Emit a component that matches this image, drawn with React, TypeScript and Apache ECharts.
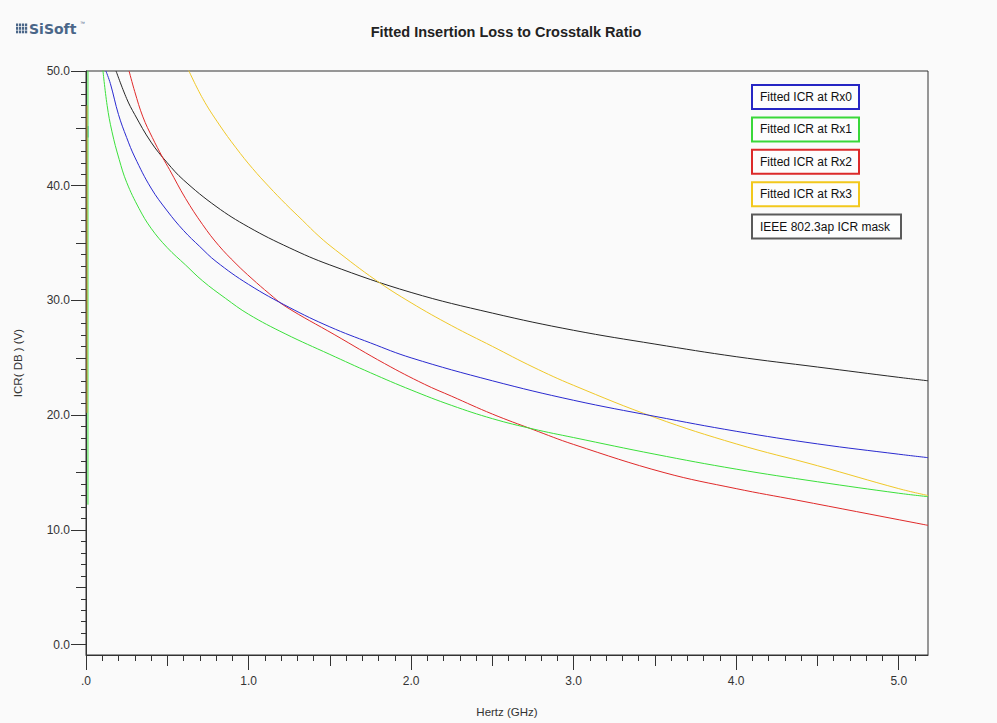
import React, { useEffect, useRef } from "react";
import * as echarts from "echarts";

// ---- data (GHz, dB) ----
const rx0Points: number[][] = [
  [0.1225, 50.0], [0.15, 48.9], [0.2, 46.2], [0.25, 44.2], [0.3, 42.5], [0.4, 39.8], [0.5, 37.8],
  [0.6, 36.1], [0.7, 34.7], [0.8, 33.4], [1.0, 31.4], [1.25, 29.4], [1.5, 27.7], [1.75, 26.3],
  [2.0, 25.0], [2.5, 23.0], [3.0, 21.3], [3.5, 19.9], [4.0, 18.6], [4.5, 17.5], [5.0, 16.6], [5.18, 16.3],
];
const rx1Points: number[][] = [
  [0.103, 50.2], [0.13, 47.0], [0.16, 44.7], [0.204, 42.3], [0.25, 40.3], [0.327, 38.0], [0.4, 36.3],
  [0.5, 34.6], [0.612, 33.1], [0.718, 31.7], [0.857, 30.2], [1.0, 28.8], [1.225, 27.1], [1.5, 25.3],
  [1.75, 23.7], [2.0, 22.2], [2.25, 20.85], [2.5, 19.7], [2.75, 18.8], [3.0, 18.05], [3.5, 16.6],
  [4.0, 15.3], [4.5, 14.2], [5.0, 13.2], [5.18, 12.9],
];
const rx2Points: number[][] = [
  [0.265, 50.0], [0.3, 48.2], [0.35, 46.0], [0.408, 44.2], [0.47, 42.5], [0.514, 41.4], [0.612, 38.9],
  [0.718, 36.6], [0.816, 34.8], [0.923, 33.2], [1.021, 31.9], [1.127, 30.6], [1.225, 29.5], [1.531, 27.0],
  [1.837, 24.5], [2.082, 22.7], [2.25, 21.65], [2.5, 20.1], [2.75, 18.75], [3.0, 17.45], [3.556, 15.0],
  [4.0, 13.6], [4.372, 12.6], [5.107, 10.6], [5.18, 10.4],
];
const rx3Points: number[][] = [
  [0.63, 50.1], [0.718, 47.6], [0.821, 45.3], [0.923, 43.3], [1.025, 41.5], [1.127, 39.9], [1.229, 38.4],
  [1.331, 37.0], [1.433, 35.6], [1.535, 34.4], [1.78, 31.8], [2.0, 29.8], [2.25, 27.8], [2.5, 26.0],
  [2.75, 24.2], [3.0, 22.6], [3.5, 19.8], [4.0, 17.5], [4.5, 15.6], [5.0, 13.6], [5.18, 13.0],
];
const maskPoints: number[][] = [
  [0.185, 50.0], [0.25, 47.6], [0.3, 46.2], [0.4, 43.8], [0.5, 42.0], [0.6, 40.5], [0.8, 38.2],
  [1.0, 36.4], [1.25, 34.6], [1.5, 33.1], [2.0, 30.7], [2.5, 28.9], [3.0, 27.4], [3.5, 26.2],
  [4.0, 25.1], [4.5, 24.2], [5.0, 23.3], [5.18, 23.0],
];
// near-DC vertical traces seen at the left edge
const rx1NearDc: number[][] = [[0.012, 12.2], [0.012, 50.0]];
const rx3NearDc: number[][] = [[0.006, 20.2], [0.006, 47.0]];
const rx0NearDc: number[][] = [[0.012, 44.2], [0.012, 45.2]];

const seriesNames = [
  "Fitted ICR at Rx0",
  "Fitted ICR at Rx1",
  "Fitted ICR at Rx2",
  "Fitted ICR at Rx3",
  "IEEE 802.3ap ICR mask",
];
const seriesColors = ["#2a2ad0", "#3be03b", "#e02a2a", "#f0c828", "#262626"];
const legendBorderColors = ["#2626c4", "#3ad83a", "#dc2a2a", "#f2c81c", "#5a5a5a"];

const xMajorTicks = [0, 1, 2, 3, 4, 5];
const xMajorLabels = [".0", "1.0", "2.0", "3.0", "4.0", "5.0"];
const xMidTicks = [0.5, 1.5, 2.5, 3.5, 4.5];
const yMajorTicks = [0, 10, 20, 30, 40, 50];
const yMajorLabels = ["0.0", "10.0", "20.0", "30.0", "40.0", "50.0"];
const yMidTicks = [5, 15, 25, 35, 45];

const X_MIN = 0;
const X_MAX = 5.18;
const Y_MIN = -0.9;
const Y_MAX = 50;

const xMinorTicks: number[] = [];
for (let i = 1; i <= 51; i++) if (i % 5 !== 0) xMinorTicks.push(i / 10);
const yMinorTicks: number[] = [];
for (let i = 1; i < 50; i++) if (i % 5 !== 0) yMinorTicks.push(i);

const FONT = '"Liberation Sans", Arial, sans-serif';
const AXIS_COLOR = "#333333";

function makeXAxis(ticks: number[], len: number, main: boolean): any {
  return {
    type: "value",
    position: "bottom",
    min: X_MIN,
    max: X_MAX,
    name: main ? "Hertz (GHz)" : "",
    nameLocation: "middle",
    nameGap: 51,
    nameTextStyle: { fontFamily: FONT, fontSize: 11.5, color: AXIS_COLOR },
    axisLine: { show: main, onZero: false, lineStyle: { color: AXIS_COLOR, width: 1 } },
    axisTick: { show: true, customValues: ticks, length: len, inside: false, lineStyle: { color: AXIS_COLOR, width: 1 } },
    axisLabel: main
      ? {
          show: true,
          customValues: xMajorTicks,
          margin: 20,
          fontFamily: FONT,
          fontSize: 12,
          color: AXIS_COLOR,
          formatter: (v: number) => xMajorLabels[xMajorTicks.indexOf(v)] ?? "",
        }
      : { show: false },
    splitLine: { show: false },
  };
}

function makeYAxis(ticks: number[], len: number, main: boolean): any {
  return {
    type: "value",
    position: "left",
    min: Y_MIN,
    max: Y_MAX,
    name: main ? "ICR( DB ) (V)" : "",
    nameLocation: "middle",
    nameRotate: 90,
    nameGap: 62,
    nameTextStyle: { fontFamily: FONT, fontSize: 11.5, color: AXIS_COLOR },
    axisLine: { show: main, onZero: false, lineStyle: { color: AXIS_COLOR, width: 1 } },
    axisTick: { show: true, customValues: ticks, length: len, inside: false, lineStyle: { color: AXIS_COLOR, width: 1 } },
    axisLabel: main
      ? {
          show: true,
          customValues: yMajorTicks,
          margin: 16,
          fontFamily: FONT,
          fontSize: 12,
          color: AXIS_COLOR,
          formatter: (v: number) => yMajorLabels[yMajorTicks.indexOf(v)] ?? "",
        }
      : { show: false },
    splitLine: { show: false },
  };
}

function lineSeries(name: string, data: number[][], color: string, smooth: boolean): any {
  return {
    type: "line",
    name,
    data,
    xAxisIndex: 0,
    yAxisIndex: 0,
    showSymbol: false,
    symbol: "none",
    smooth: smooth ? 0.4 : false,
    lineStyle: { color, width: 1 },
    itemStyle: { color },
    clip: true,
    silent: true,
  };
}

function buildLegend(): any[] {
  const els: any[] = [];
  const widths = [107, 107, 107, 107, 149];
  seriesNames.forEach((name, i) => {
    const y = 85 + i * 32.4;
    els.push({
      type: "rect",
      shape: { x: 752, y, width: widths[i], height: 24 },
      style: { fill: "#fdfdfd", stroke: legendBorderColors[i], lineWidth: 2 },
    });
    els.push({
      type: "text",
      x: 760,
      y: y + 12,
      style: { text: name, fontFamily: FONT, fontSize: 12, fill: "#111", verticalAlign: "middle", align: "left" },
    });
  });
  return els;
}

function buildLogo(): any[] {
  const els: any[] = [];
  const cols = [16, 19, 22, 25];
  cols.forEach((cx) => {
    [23.5, 27, 30.5].forEach((cy) => {
      els.push({ type: "rect", shape: { x: cx, y: cy, width: 2.2, height: 2.8 }, style: { fill: "#4a6688" } });
    });
  });
  els.push({
    type: "text",
    x: 29,
    y: 29,
    style: {
      text: "SiSoft",
      fontFamily: '"DejaVu Sans", sans-serif',
      fontWeight: "bold",
      fontSize: 14,
      fill: "#4a6688",
      verticalAlign: "middle",
      align: "left",
    },
  });
  els.push({
    type: "text",
    x: 80,
    y: 23,
    style: { text: "™", fontFamily: FONT, fontSize: 5, fill: "#4a6688", verticalAlign: "middle" },
  });
  return els;
}

export default function App() {
  const ref = useRef<HTMLDivElement>(null);
  useEffect(() => {
    if (!ref.current) return;
    const chart = echarts.init(ref.current, null, { renderer: "svg" });
    const option: any = {
      animation: false,
      backgroundColor: "#fafafa",
      grid: {
        left: 86,
        top: 71,
        width: 842,
        height: 590,
        show: true,
        borderColor: AXIS_COLOR,
        borderWidth: 1,
        backgroundColor: "transparent",
        containLabel: false,
      },
      xAxis: [makeXAxis(xMajorTicks, 15, true), makeXAxis(xMidTicks, 11, false), makeXAxis(xMinorTicks, 6, false)],
      yAxis: [makeYAxis(yMajorTicks, 15, true), makeYAxis(yMidTicks, 10, false), makeYAxis(yMinorTicks, 5, false)],
      series: [
        lineSeries("Rx0 near DC", rx0NearDc, "#2a90c0", false),
        lineSeries("Rx1 near DC", rx1NearDc, seriesColors[1], false),
        lineSeries("Rx3 near DC", rx3NearDc, "#c89a30", false),
        lineSeries(seriesNames[4], maskPoints, seriesColors[4], true),
        lineSeries(seriesNames[3], rx3Points, seriesColors[3], true),
        lineSeries(seriesNames[2], rx2Points, seriesColors[2], true),
        lineSeries(seriesNames[1], rx1Points, seriesColors[1], true),
        lineSeries(seriesNames[0], rx0Points, seriesColors[0], true),
      ],
      graphic: [
        ...buildLogo(),
        {
          type: "text",
          x: 506,
          y: 32,
          style: {
            text: "Fitted Insertion Loss to Crosstalk Ratio",
            fontFamily: FONT,
            fontWeight: "bold",
            fontSize: 14.5,
            fill: "#222",
            align: "center",
            verticalAlign: "middle",
          },
        },
        ...buildLegend(),
      ],
    };
    chart.setOption(option);
    return () => chart.dispose();
  }, []);
  return <div ref={ref} style={{ position: "fixed", left: 0, top: 0, width: 997, height: 723 }} />;
}
